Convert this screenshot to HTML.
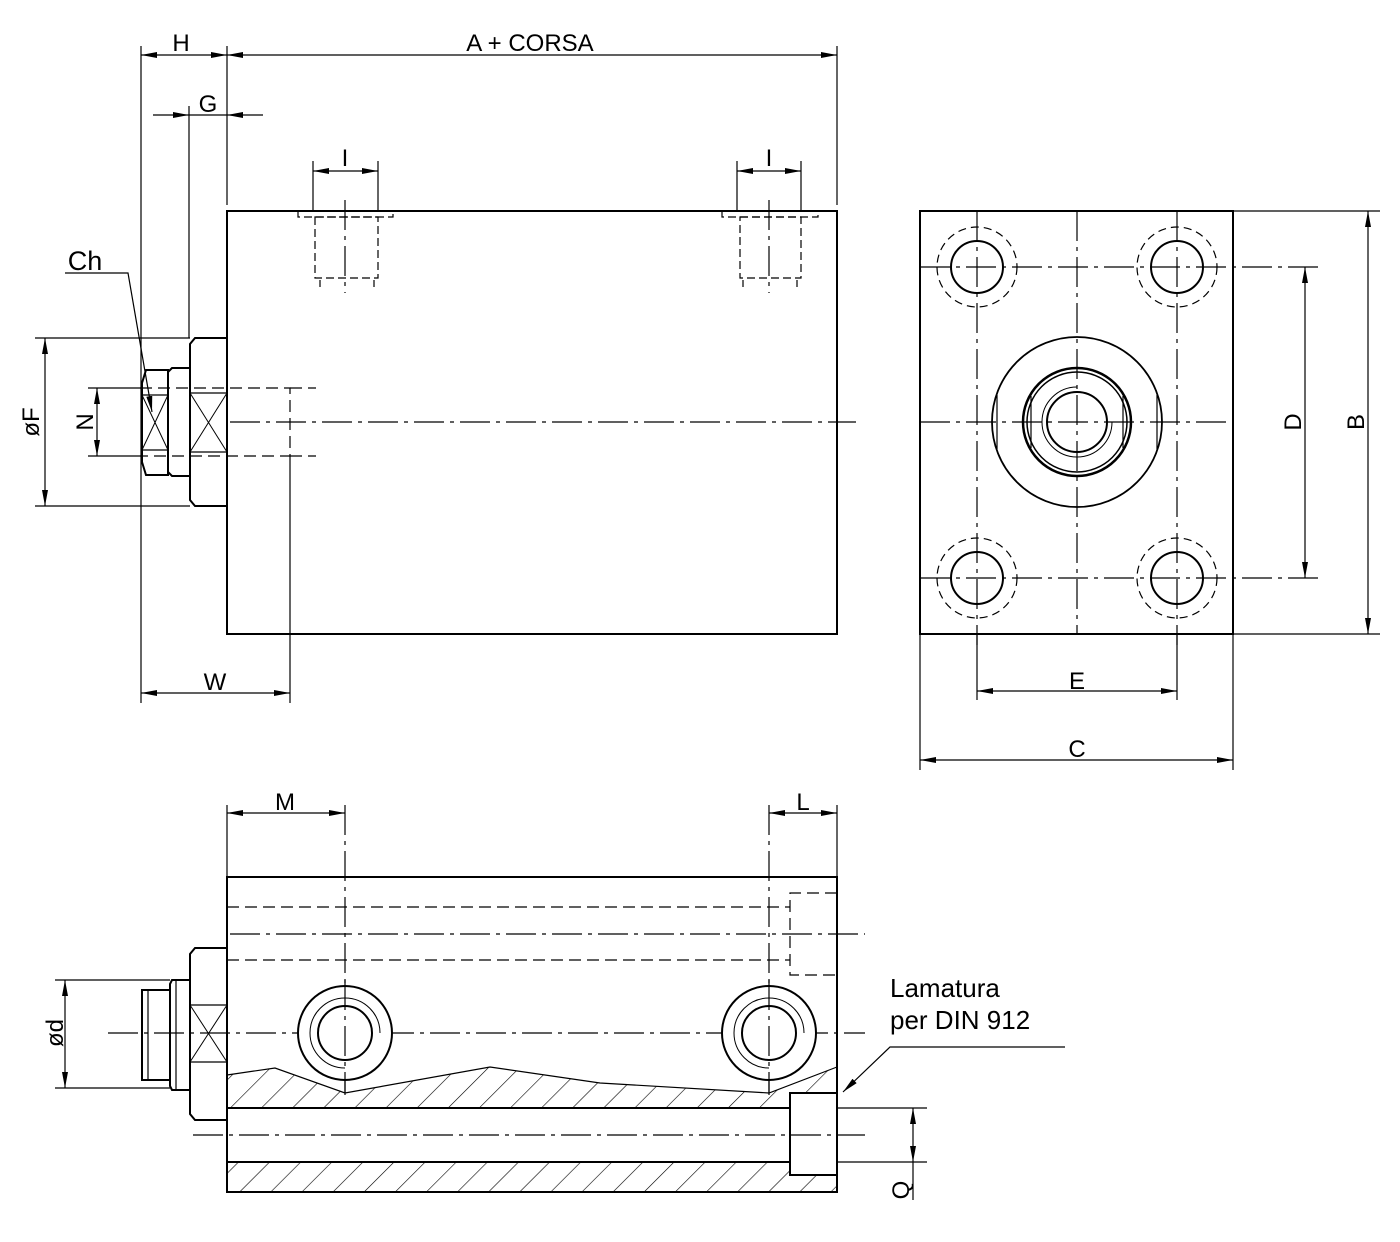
<!DOCTYPE html>
<html><head><meta charset="utf-8"><style>html,body{margin:0;padding:0;background:#fff}svg{display:block}</style></head><body>
<svg width="1400" height="1242" viewBox="0 0 1400 1242" xmlns="http://www.w3.org/2000/svg" font-family="Liberation Sans, sans-serif">
<defs>
<marker id="a" viewBox="0 0 16 6" refX="16" refY="3" markerWidth="16" markerHeight="6" markerUnits="userSpaceOnUse" orient="auto-start-reverse"><path d="M0,0 L16,3 L0,6 z" fill="#000"/></marker>
<pattern id="h" width="22" height="22" patternUnits="userSpaceOnUse" patternTransform="rotate(45)"><line x1="0" y1="0" x2="0" y2="22" stroke="#000" stroke-width="1.2"/></pattern>
</defs>
<g fill="none" stroke="#000" stroke-width="1.2">
<!-- TOP VIEW -->
<rect x="227" y="211" width="610" height="423" stroke-width="2"/>
<line x1="230" y1="422" x2="856" y2="422" stroke-dasharray="30,6,4,6"/>
<!-- front parts -->
<path d="M195,338 H227 V506 H195 L190,500 V344 Z" stroke-width="2"/>
<line x1="190" y1="393" x2="227" y2="393"/><line x1="190" y1="452" x2="227" y2="452"/>
<line x1="190" y1="393" x2="227" y2="452" stroke-width="1"/><line x1="227" y1="393" x2="190" y2="452" stroke-width="1"/>
<path d="M172,368 H190 V476 H172 L168,472 V372 Z" stroke-width="2"/>
<path d="M146,370 H168 V475 H146 L142,462 V383 Z" stroke-width="2"/>
<line x1="142" y1="395" x2="168" y2="395"/><line x1="142" y1="450" x2="168" y2="450"/>
<line x1="142" y1="395" x2="168" y2="450" stroke-width="1"/><line x1="168" y1="395" x2="142" y2="450" stroke-width="1"/>
<!-- dashed bore -->
<path d="M140,388 H290 V456 H140" stroke-dasharray="12,6"/>
<line x1="290" y1="388" x2="316" y2="388" stroke-dasharray="12,6"/>
<line x1="290" y1="456" x2="316" y2="456" stroke-dasharray="12,6"/>
<!-- ports -->
<g stroke-dasharray="8,4">
<path d="M298,211 V217 H393 V211"/><rect x="315" y="217" width="63" height="61"/>
<path d="M722,211 V217 H818 V211"/><rect x="740" y="217" width="61" height="61"/>
</g>
<line x1="345" y1="200" x2="345" y2="293" stroke-dasharray="30,6,4,6"/>
<line x1="769" y1="200" x2="769" y2="293" stroke-dasharray="30,6,4,6"/>
<line x1="320" y1="280" x2="320" y2="287"/><line x1="374" y1="280" x2="374" y2="287"/>
<line x1="743" y1="280" x2="743" y2="287"/><line x1="797" y1="280" x2="797" y2="287"/>
<!-- dims top -->
<line x1="141" y1="46" x2="141" y2="703"/>
<line x1="227" y1="46" x2="227" y2="205"/>
<line x1="837" y1="46" x2="837" y2="205"/>
<line x1="141" y1="55" x2="227" y2="55" marker-start="url(#a)" marker-end="url(#a)"/>
<line x1="227" y1="55" x2="837" y2="55" marker-start="url(#a)" marker-end="url(#a)"/>
<line x1="189" y1="106" x2="189" y2="338"/>
<line x1="153" y1="115" x2="189" y2="115" marker-end="url(#a)"/>
<line x1="263" y1="115" x2="227" y2="115" marker-end="url(#a)"/>
<line x1="189" y1="115" x2="227" y2="115"/>
<line x1="313" y1="161" x2="313" y2="211"/><line x1="378" y1="161" x2="378" y2="211"/>
<line x1="313" y1="171" x2="378" y2="171" marker-start="url(#a)" marker-end="url(#a)"/>
<line x1="737" y1="161" x2="737" y2="211"/><line x1="801" y1="161" x2="801" y2="211"/>
<line x1="737" y1="171" x2="801" y2="171" marker-start="url(#a)" marker-end="url(#a)"/>
<!-- Ch -->
<path d="M65,273 H128 L152,412" marker-end="url(#a)"/>
<!-- F,N -->
<line x1="35" y1="338" x2="190" y2="338"/><line x1="35" y1="506" x2="190" y2="506"/>
<line x1="45" y1="338" x2="45" y2="506" marker-start="url(#a)" marker-end="url(#a)"/>
<line x1="88" y1="388" x2="142" y2="388"/><line x1="88" y1="456" x2="142" y2="456"/>
<line x1="97" y1="388" x2="97" y2="456" marker-start="url(#a)" marker-end="url(#a)"/>
<line x1="290" y1="456" x2="290" y2="703"/>
<line x1="141" y1="693" x2="290" y2="693" marker-start="url(#a)" marker-end="url(#a)"/>
<!-- RIGHT VIEW -->
<rect x="920" y="211" width="313" height="423" stroke-width="2"/>
<g stroke-dasharray="30,6,4,6">
<line x1="1077" y1="211" x2="1077" y2="634"/><line x1="920" y1="422" x2="1233" y2="422"/>
<line x1="977" y1="211" x2="977" y2="645"/><line x1="1177" y1="211" x2="1177" y2="645"/>
<line x1="920" y1="267" x2="1320" y2="267"/><line x1="920" y1="578" x2="1320" y2="578"/>
</g>
<g stroke-width="2">
<circle cx="977" cy="267" r="26"/><circle cx="1177" cy="267" r="26"/>
<circle cx="977" cy="578" r="26"/><circle cx="1177" cy="578" r="26"/>
</g>
<g stroke-dasharray="8,5">
<circle cx="977" cy="267" r="40"/><circle cx="1177" cy="267" r="40"/>
<circle cx="977" cy="578" r="40"/><circle cx="1177" cy="578" r="40"/>
</g>
<circle cx="1077" cy="422" r="85" stroke-width="1.8"/>
<line x1="997" y1="395" x2="997" y2="449"/><line x1="1157" y1="395" x2="1157" y2="449"/>
<circle cx="1077" cy="422" r="54" stroke-width="2.5"/>
<circle cx="1077" cy="422" r="50" stroke-width="1.5"/>
<line x1="1031" y1="396" x2="1031" y2="448"/><line x1="1123" y1="396" x2="1123" y2="448"/>
<circle cx="1077" cy="422" r="30" stroke-width="2"/>
<path d="M1077,387 A35,35 0 1 0 1112,422" stroke-width="1"/>
<line x1="1233" y1="211" x2="1380" y2="211"/><line x1="1233" y1="634" x2="1380" y2="634"/>
<line x1="1305" y1="267" x2="1305" y2="578" marker-start="url(#a)" marker-end="url(#a)"/>
<line x1="1368" y1="211" x2="1368" y2="634" marker-start="url(#a)" marker-end="url(#a)"/>
<line x1="977" y1="634" x2="977" y2="700"/><line x1="1177" y1="634" x2="1177" y2="700"/>
<line x1="977" y1="691" x2="1177" y2="691" marker-start="url(#a)" marker-end="url(#a)"/>
<line x1="920" y1="634" x2="920" y2="770"/><line x1="1233" y1="634" x2="1233" y2="770"/>
<line x1="920" y1="760" x2="1233" y2="760" marker-start="url(#a)" marker-end="url(#a)"/>
<!-- BOTTOM VIEW -->
<path d="M227,1075 L275,1068 L345,1093 L490,1067 L600,1083 L769,1093 L837,1067 V1108 H227 Z" fill="url(#h)" stroke="none"/>
<rect x="227" y="1162" width="610" height="30" fill="url(#h)" stroke="none"/>
<rect x="790" y="1093" width="47" height="82" fill="#fff" stroke="#000" stroke-width="2"/>
<polyline points="227,1075 275,1068 345,1093 490,1067 600,1083 769,1093 837,1067"/>
<rect x="227" y="877" width="610" height="315" stroke-width="2"/>
<line x1="227" y1="1108" x2="790" y2="1108" stroke-width="2"/>
<line x1="227" y1="1162" x2="790" y2="1162" stroke-width="2"/>
<path d="M227,907 H790 M227,960 H790 M837,893 H790 V975 H837" stroke-dasharray="12,6"/>
<g stroke-dasharray="30,6,4,6">
<line x1="230" y1="934" x2="865" y2="934"/>
<line x1="108" y1="1033" x2="865" y2="1033"/>
<line x1="193" y1="1135" x2="865" y2="1135"/>
</g>
<line x1="345" y1="805" x2="345" y2="1095" stroke-dasharray="30,6,4,6"/>
<line x1="769" y1="805" x2="769" y2="1095" stroke-dasharray="30,6,4,6"/>
<g fill="#fff">
<circle cx="345" cy="1033" r="47" stroke-width="2"/><circle cx="769" cy="1033" r="47" stroke-width="2"/>
</g>
<circle cx="345" cy="1033" r="27" stroke-width="2"/><circle cx="769" cy="1033" r="27" stroke-width="2"/>
<path d="M345,1068 A35,35 0 1 1 380,1033" stroke-width="1"/>
<path d="M769,1068 A35,35 0 1 1 804,1033" stroke-width="1"/>
<line x1="345" y1="980" x2="345" y2="1093" stroke-dasharray="30,6,4,6"/>
<line x1="769" y1="980" x2="769" y2="1093" stroke-dasharray="30,6,4,6"/>
<path d="M195,948 H227 V1120 H195 L190,1114 V954 Z" stroke-width="2"/>
<line x1="190" y1="1005" x2="227" y2="1005"/><line x1="190" y1="1062" x2="227" y2="1062"/>
<line x1="190" y1="1005" x2="227" y2="1062" stroke-width="1"/><line x1="227" y1="1005" x2="190" y2="1062" stroke-width="1"/>
<path d="M172,980 H190 V1090 H172 L170,1086 V984 Z" stroke-width="2"/>
<line x1="176" y1="980" x2="176" y2="1090"/>
<rect x="142" y="990" width="28" height="90" stroke-width="2"/>
<line x1="148" y1="990" x2="148" y2="1080"/>
<line x1="55" y1="980" x2="170" y2="980"/><line x1="55" y1="1088" x2="170" y2="1088"/>
<line x1="65" y1="980" x2="65" y2="1088" marker-start="url(#a)" marker-end="url(#a)"/>
<line x1="227" y1="805" x2="227" y2="877"/><line x1="837" y1="805" x2="837" y2="877"/>
<line x1="227" y1="813" x2="345" y2="813" marker-start="url(#a)" marker-end="url(#a)"/>
<line x1="769" y1="813" x2="837" y2="813" marker-start="url(#a)" marker-end="url(#a)"/>
<line x1="837" y1="1108" x2="927" y2="1108"/><line x1="837" y1="1162" x2="927" y2="1162"/>
<line x1="913" y1="1135" x2="913" y2="1108" marker-end="url(#a)"/>
<line x1="913" y1="1135" x2="913" y2="1162" marker-end="url(#a)"/>
<line x1="913" y1="1162" x2="913" y2="1200"/>
<path d="M1065,1047 H890 L843,1092" marker-end="url(#a)"/>
</g>
<g font-size="24" fill="#000" text-anchor="middle">
<text x="181" y="51">H</text>
<text x="530" y="51">A + CORSA</text>
<text x="208" y="112">G</text>
<text x="345" y="166">I</text><text x="769" y="166">I</text>
<text x="85" y="270" font-size="27">Ch</text>
<text x="215" y="690">W</text>
<text x="1077" y="689">E</text>
<text x="1077" y="757">C</text>
<text x="285" y="810">M</text>
<text x="803" y="810">L</text>
<text transform="translate(39,422) rotate(-90)">øF</text>
<text transform="translate(93,422) rotate(-90)">N</text>
<text transform="translate(1301,422) rotate(-90)">D</text>
<text transform="translate(1364,422) rotate(-90)">B</text>
<text transform="translate(63,1033) rotate(-90)">ød</text>
<text transform="translate(909,1190) rotate(-90)">Q</text>
<text x="890" y="997" font-size="26" text-anchor="start">Lamatura</text>
<text x="890" y="1029" font-size="26" text-anchor="start">per DIN 912</text>
</g>
</svg>
</body></html>
